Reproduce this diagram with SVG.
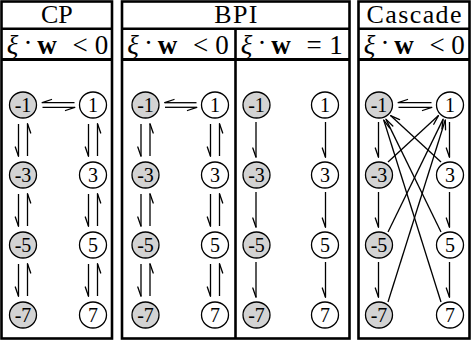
<svg xmlns="http://www.w3.org/2000/svg" width="472" height="342" viewBox="0 0 472 342">
<style>
.box{fill:none;stroke:#000;stroke-width:2.6}
.neg{fill:#d3d3d3;stroke:#000;stroke-width:1.3}
.pos{fill:#fff;stroke:#000;stroke-width:1.3}
.lbl{font-family:"Liberation Serif","Times New Roman",serif;font-size:20px;text-anchor:middle}
.ttl{font-family:"Liberation Serif","Times New Roman",serif;font-size:26px;text-anchor:middle}
.m{font-family:"Liberation Serif","Times New Roman",serif;font-size:27px;text-anchor:middle}
.it{font-style:italic}
.bf{font-weight:bold}
.a{stroke:#000;stroke-width:1.3;fill:none;marker-end:url(#h)}
</style>
<defs>
<marker id="h" markerUnits="userSpaceOnUse" markerWidth="12" markerHeight="12" refX="0" refY="0" orient="auto" overflow="visible">
<path d="M0.3,0 L-9,3.2" stroke="#000" stroke-width="1.3" fill="none" stroke-linecap="round"/>
</marker>
</defs>
<rect width="472" height="342" fill="#fff"/>
<g id="frames">
<rect class="box" x="1.5" y="1.5" width="110.5" height="337"/>
<line class="box" x1="1.5" y1="28.8" x2="112" y2="28.8"/>
<line class="box" x1="1.5" y1="59.5" x2="112" y2="59.5" style="stroke-width:3"/>
<rect class="box" x="122" y="1.5" width="227.5" height="337"/>
<line class="box" x1="122" y1="28.8" x2="349.5" y2="28.8"/>
<line class="box" x1="122" y1="59.5" x2="349.5" y2="59.5" style="stroke-width:3"/>
<line class="box" x1="235.5" y1="28.8" x2="235.5" y2="338.5"/>
<rect class="box" x="358.5" y="1.5" width="111" height="337"/>
<line class="box" x1="358.5" y1="28.8" x2="469.5" y2="28.8"/>
<line class="box" x1="358.5" y1="59.5" x2="469.5" y2="59.5" style="stroke-width:3"/>
</g>
<g id="headers">
<text class="ttl" x="56.8" y="23">CP</text>
<text class="ttl" x="235.8" y="23" textLength="43">BPI</text>
<text class="ttl" x="414" y="23" textLength="95">Cascade</text>
<g class="m">
<text class="it" x="12.5" y="53.5">ξ</text><text x="28" y="52">·</text><text class="bf" x="47" y="53.5">w</text><text x="80" y="53.5">&lt;</text><text x="101.5" y="53.5">0</text>
<text class="it" x="133" y="53.5">ξ</text><text x="148.5" y="52">·</text><text class="bf" x="167.5" y="53.5">w</text><text x="200.5" y="53.5">&lt;</text><text x="222" y="53.5">0</text>
<text class="it" x="246.5" y="53.5">ξ</text><text x="262" y="52">·</text><text class="bf" x="281" y="53.5">w</text><text x="314" y="53.5">=</text><text x="336" y="53.5">1</text>
<text class="it" x="369.5" y="53.5">ξ</text><text x="385" y="52">·</text><text class="bf" x="404" y="53.5">w</text><text x="437" y="53.5">&lt;</text><text x="458" y="53.5">0</text>
</g>
</g>
<g id="cp-nodes">
<g id="cp-n-1"><ellipse class="neg" cx="23" cy="105" rx="13.5" ry="13"/><text class="lbl" x="23" y="112">-1</text></g>
<g id="cp-n-3"><ellipse class="neg" cx="23" cy="175" rx="13.5" ry="13"/><text class="lbl" x="23" y="182">-3</text></g>
<g id="cp-n-5"><ellipse class="neg" cx="23" cy="245" rx="13.5" ry="13"/><text class="lbl" x="23" y="252">-5</text></g>
<g id="cp-n-7"><ellipse class="neg" cx="23" cy="315" rx="13.5" ry="13"/><text class="lbl" x="23" y="322">-7</text></g>
<g id="cp-n1"><ellipse class="pos" cx="93" cy="105" rx="13.5" ry="13"/><text class="lbl" x="93" y="112">1</text></g>
<g id="cp-n3"><ellipse class="pos" cx="93" cy="175" rx="13.5" ry="13"/><text class="lbl" x="93" y="182">3</text></g>
<g id="cp-n5"><ellipse class="pos" cx="93" cy="245" rx="13.5" ry="13"/><text class="lbl" x="93" y="252">5</text></g>
<g id="cp-n7"><ellipse class="pos" cx="93" cy="315" rx="13.5" ry="13"/><text class="lbl" x="93" y="322">7</text></g>
</g>
<g id="bpia-nodes">
<g id="bpia-n-1"><ellipse class="neg" cx="145.5" cy="105" rx="13.5" ry="13"/><text class="lbl" x="145.5" y="112">-1</text></g>
<g id="bpia-n-3"><ellipse class="neg" cx="145.5" cy="175" rx="13.5" ry="13"/><text class="lbl" x="145.5" y="182">-3</text></g>
<g id="bpia-n-5"><ellipse class="neg" cx="145.5" cy="245" rx="13.5" ry="13"/><text class="lbl" x="145.5" y="252">-5</text></g>
<g id="bpia-n-7"><ellipse class="neg" cx="145.5" cy="315" rx="13.5" ry="13"/><text class="lbl" x="145.5" y="322">-7</text></g>
<g id="bpia-n1"><ellipse class="pos" cx="215" cy="105" rx="13.5" ry="13"/><text class="lbl" x="215" y="112">1</text></g>
<g id="bpia-n3"><ellipse class="pos" cx="215" cy="175" rx="13.5" ry="13"/><text class="lbl" x="215" y="182">3</text></g>
<g id="bpia-n5"><ellipse class="pos" cx="215" cy="245" rx="13.5" ry="13"/><text class="lbl" x="215" y="252">5</text></g>
<g id="bpia-n7"><ellipse class="pos" cx="215" cy="315" rx="13.5" ry="13"/><text class="lbl" x="215" y="322">7</text></g>
</g>
<g id="bpib-nodes">
<g id="bpib-n-1"><ellipse class="neg" cx="256.5" cy="105" rx="13.5" ry="13"/><text class="lbl" x="256.5" y="112">-1</text></g>
<g id="bpib-n-3"><ellipse class="neg" cx="256.5" cy="175" rx="13.5" ry="13"/><text class="lbl" x="256.5" y="182">-3</text></g>
<g id="bpib-n-5"><ellipse class="neg" cx="256.5" cy="245" rx="13.5" ry="13"/><text class="lbl" x="256.5" y="252">-5</text></g>
<g id="bpib-n-7"><ellipse class="neg" cx="256.5" cy="315" rx="13.5" ry="13"/><text class="lbl" x="256.5" y="322">-7</text></g>
<g id="bpib-n1"><ellipse class="pos" cx="325" cy="105" rx="13.5" ry="13"/><text class="lbl" x="325" y="112">1</text></g>
<g id="bpib-n3"><ellipse class="pos" cx="325" cy="175" rx="13.5" ry="13"/><text class="lbl" x="325" y="182">3</text></g>
<g id="bpib-n5"><ellipse class="pos" cx="325" cy="245" rx="13.5" ry="13"/><text class="lbl" x="325" y="252">5</text></g>
<g id="bpib-n7"><ellipse class="pos" cx="325" cy="315" rx="13.5" ry="13"/><text class="lbl" x="325" y="322">7</text></g>
</g>
<g id="cas-nodes">
<g id="cas-n-1"><ellipse class="neg" cx="379" cy="105" rx="13.5" ry="13"/><text class="lbl" x="379" y="112">-1</text></g>
<g id="cas-n-3"><ellipse class="neg" cx="379" cy="175" rx="13.5" ry="13"/><text class="lbl" x="379" y="182">-3</text></g>
<g id="cas-n-5"><ellipse class="neg" cx="379" cy="245" rx="13.5" ry="13"/><text class="lbl" x="379" y="252">-5</text></g>
<g id="cas-n-7"><ellipse class="neg" cx="379" cy="315" rx="13.5" ry="13"/><text class="lbl" x="379" y="322">-7</text></g>
<g id="cas-n1"><ellipse class="pos" cx="450" cy="105" rx="13.5" ry="13"/><text class="lbl" x="450" y="112">1</text></g>
<g id="cas-n3"><ellipse class="pos" cx="450" cy="175" rx="13.5" ry="13"/><text class="lbl" x="450" y="182">3</text></g>
<g id="cas-n5"><ellipse class="pos" cx="450" cy="245" rx="13.5" ry="13"/><text class="lbl" x="450" y="252">5</text></g>
<g id="cas-n7"><ellipse class="pos" cx="450" cy="315" rx="13.5" ry="13"/><text class="lbl" x="450" y="322">7</text></g>
</g>
<g id="connectors">
<path class="a" d="M74.5,102.7 H42.5"/><path class="a" d="M42.5,107.3 H74.5"/>
<path class="a" d="M18.5,124 V156"/><path class="a" d="M27.5,156 V124"/>
<path class="a" d="M18.5,194 V226"/><path class="a" d="M27.5,226 V194"/>
<path class="a" d="M18.5,264 V296"/><path class="a" d="M27.5,296 V264"/>
<path class="a" d="M88.5,124 V156"/><path class="a" d="M97.5,156 V124"/>
<path class="a" d="M88.5,194 V226"/><path class="a" d="M97.5,226 V194"/>
<path class="a" d="M88.5,264 V296"/><path class="a" d="M97.5,296 V264"/>
<path class="a" d="M196.5,102.7 H165"/><path class="a" d="M165,107.3 H196.5"/>
<path class="a" d="M141,124 V156"/><path class="a" d="M150,156 V124"/>
<path class="a" d="M141,194 V226"/><path class="a" d="M150,226 V194"/>
<path class="a" d="M141,264 V296"/><path class="a" d="M150,296 V264"/>
<path class="a" d="M210.5,124 V156"/><path class="a" d="M219.5,156 V124"/>
<path class="a" d="M210.5,194 V226"/><path class="a" d="M219.5,226 V194"/>
<path class="a" d="M210.5,264 V296"/><path class="a" d="M219.5,296 V264"/>
<path class="a" d="M256,122 V157"/><path class="a" d="M256,192 V227"/><path class="a" d="M256,262 V297"/>
<path class="a" d="M325.5,122 V157"/><path class="a" d="M325.5,192 V227"/><path class="a" d="M325.5,262 V297"/>
<path class="a" d="M431.5,102.7 H398.5"/><path class="a" d="M398.5,107.3 H431.5"/>
<path class="a" d="M378.5,122 V157"/><path class="a" d="M378.5,192 V227"/><path class="a" d="M378.5,262 V297"/>
<path class="a" d="M449.5,122 V157"/><path class="a" d="M449.5,192 V227"/><path class="a" d="M449.5,262 V297"/>
<path class="a" d="M388,162 L438.2,115.8"/>
<path class="a" d="M388,232 L443,119.4"/>
<path class="a" d="M388,302 L445.2,120.3"/>
<path class="a" d="M441,162 L390.8,115.8"/>
<path class="a" d="M441,232 L386,119.4"/>
<path class="a" d="M441,302 L383.8,120.3"/>
</g>
</svg>
